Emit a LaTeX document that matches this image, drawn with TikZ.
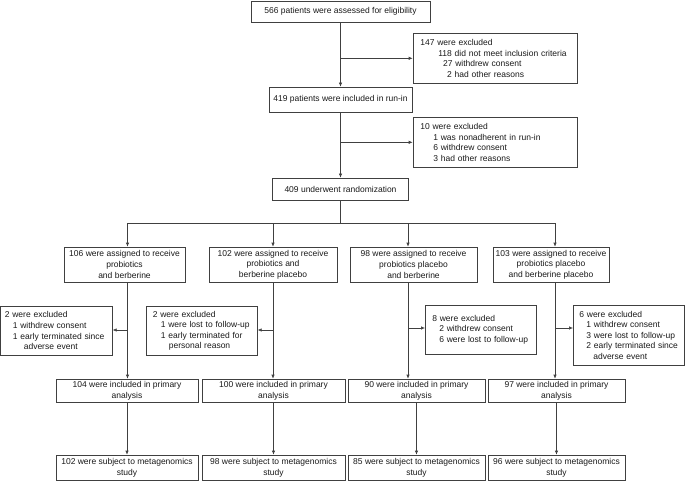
\documentclass[tikz,border=0pt]{standalone}
\usepackage{fontspec}
\setmainfont{Liberation Sans}
\usetikzlibrary{arrows.meta}

\tikzset{
  box/.style={draw=black!75, line width=0.6pt, align=center, inner xsep=2pt, inner ysep=0pt,
    text=black!90, font=\fontsize{8.5}{10.6}\selectfont},
  exclbox/.style={draw=black!75, line width=0.6pt, align=left, anchor=north west, inner ysep=0pt,
    text=black!90, font=\fontsize{8.5}{10.6}\selectfont},
  link/.style={draw=black!75, line width=0.6pt},
  flow/.style={link, -{Latex[length=4pt,width=3.4pt]}},
}

\begin{document}
\begin{tikzpicture}[x=1pt, y=-1pt]
        \useasboundingbox (0,0) rectangle (685,481);

        % enrolment
        \node[box, minimum width=179pt, minimum height=21pt] (elig) at (340.5,11.5) {566 patients were assessed for eligibility};
        \node[exclbox, minimum width=164.3pt, minimum height=50pt, inner xsep=7.3pt, text width=149.7pt] (excl1) at (412.7,33)
            {147 were excluded\\
             \hspace*{18pt}118 did not meet inclusion criteria\\
             \hspace*{18pt}\phantom{1}27 withdrew consent\\
             \hspace*{18pt}\phantom{11}2 had other reasons};
        \node[box, minimum width=143pt, minimum height=25pt] (runin) at (340.5,99.5) {419 patients were included in run-in};
        \node[exclbox, minimum width=164.3pt, minimum height=50pt, inner xsep=7.3pt, text width=149.7pt] (excl2) at (412.7,117)
            {10 were excluded\\
             \hspace*{13pt}1 was nonadherent in run-in\\
             \hspace*{13pt}6 withdrew consent\\
             \hspace*{13pt}3 had other reasons};
        \node[box, minimum width=136pt, minimum height=22pt] (rand) at (340.5,189) {409 underwent randomization};

        \draw[flow] (elig) -- (runin);
        \draw[flow] (elig |- excl1.west) -- (excl1.west);
        \draw[flow] (runin) -- (rand);
        \draw[flow] (runin |- excl2.west) -- (excl2.west);

        % allocation
        \node[box, minimum width=121pt, minimum height=35pt] (A1) at (124.5,264.5) {106 were assigned to receive\\probiotics\\and berberine};
        \node[box, minimum width=128pt, minimum height=35pt] (A2) at (273,264.5) {102 were assigned to receive\\probiotics and\\berberine placebo};
        \node[box, minimum width=127pt, minimum height=35pt] (A3) at (413.5,264.5) {98 were assigned to receive\\probiotics placebo\\and berberine};
        \node[box, minimum width=116pt, minimum height=35pt] (A4) at (551,264.5) {103 were assigned to receive\\probiotics placebo\\and berberine placebo};

        \coordinate (split) at (340.5,223);
        \coordinate (col1) at (127.5,223);
        \coordinate (col2) at (273,223);
        \coordinate (col3) at (408,223);
        \coordinate (col4) at (555,223);

        \draw[link] (rand) -- (split);
        \draw[link] (col1) -- (col4);
        \foreach \i in {1,...,4}
            \draw[flow] (col\i) -- (col\i |- A\i.north);

        % follow-up
        \node[exclbox, minimum width=111.5pt, minimum height=49pt, inner xsep=4pt, text width=103.5pt] (E1) at (0.5,306)
            {2 were excluded\\
             \hspace*{8pt}1 withdrew consent\\
             \hspace*{8pt}1 early terminated since\\
             \hspace*{19pt}adverse event};
        \node[exclbox, minimum width=111pt, minimum height=49pt, inner xsep=6.5pt, text width=98pt] (E2) at (146,306)
            {2 were excluded\\
             \hspace*{8pt}1 were lost to follow-up\\
             \hspace*{8pt}1 early terminated for\\
             \hspace*{16pt}personal reason};
        \node[exclbox, minimum width=111pt, minimum height=49pt, inner xsep=7pt, text width=97pt] (E3) at (425,305)
            {8 were excluded\\
             \hspace*{7pt}2 withdrew consent\\
             \hspace*{7pt}6 were lost to follow-up};
        \node[exclbox, minimum width=111pt, minimum height=60pt, inner xsep=6pt, text width=99pt] (E4) at (573,305)
            {6 were excluded\\
             \hspace*{7pt}1 withdrew consent\\
             \hspace*{7pt}3 were lost to follow-up\\
             \hspace*{7pt}2 early terminated since\\
             \hspace*{14pt}adverse event};

        % analysis
        \node[box, minimum width=142pt, minimum height=23pt] (P1) at (127,390.5) {104 were included in primary\\analysis};
        \node[box, minimum width=143pt, minimum height=23pt] (P2) at (273.5,390.5) {100 were included in primary\\analysis};
        \node[box, minimum width=137pt, minimum height=23pt] (P3) at (416.5,390.5) {90 were included in primary\\analysis};
        \node[box, minimum width=137pt, minimum height=23pt] (P4) at (556.5,390.5) {97 were included in primary\\analysis};

        \node[box, minimum width=142pt, minimum height=25pt] (M1) at (127,467.5) {102 were subject to metagenomics\\study};
        \node[box, minimum width=143pt, minimum height=25pt] (M2) at (273.5,467.5) {98 were subject to metagenomics\\study};
        \node[box, minimum width=137pt, minimum height=25pt] (M3) at (416.5,467.5) {85 were subject to metagenomics\\study};
        \node[box, minimum width=137pt, minimum height=25pt] (M4) at (556.5,467.5) {96 were subject to metagenomics\\study};

        \coordinate (cut1) at (127.5,330);
        \coordinate (cut2) at (273,330);
        \coordinate (cut3) at (408,328);
        \coordinate (cut4) at (555,328);

        \foreach \i in {1,...,4}
            \draw[flow] (col\i |- A\i.south) -- (col\i |- P\i.north);
        \draw[flow] (cut1) -- (cut1 -| E1.east);
        \draw[flow] (cut2) -- (cut2 -| E2.east);
        \draw[flow] (cut3) -- (cut3 -| E3.west);
        \draw[flow] (cut4) -- (cut4 -| E4.west);
        \foreach \i in {1,...,4}
            \draw[flow] (P\i) -- (M\i);
    \end{tikzpicture}
\end{document}
